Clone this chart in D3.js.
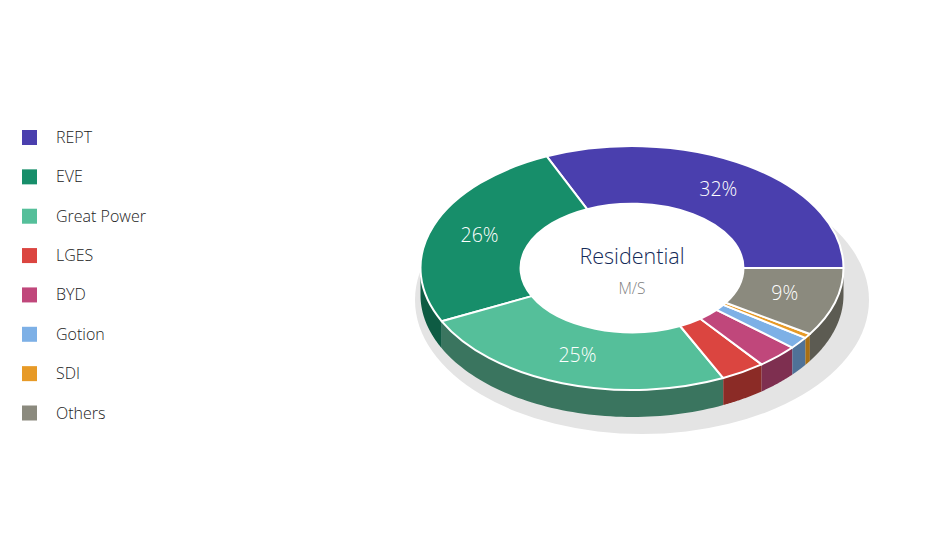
<!DOCTYPE html>
<html>
<head>
<meta charset="utf-8">
<script src="https://cdnjs.cloudflare.com/ajax/libs/d3/7.8.5/d3.min.js"></script>
<style>
html,body{margin:0;padding:0;background:#fff;overflow:hidden}
svg{display:block}
text{font-family:"Open Sans","Noto Sans",sans-serif;font-weight:300}
</style>
</head>
<body>
<svg id="c" width="930" height="551"></svg>
<script>
const categories = ["REPT","EVE","Great Power","LGES","BYD","Gotion","SDI","Others"];
const shares = [31.6,25.6,24.9,3.4,3.2,1.6,0.6,9.1];
const sliceLabels = ["32%","26%","25%","","","","","9%"];
const topColors = ["#4a3fae","#178e6a","#55bf9a","#db4540","#c0477b","#7db0e6","#e79a27","#8b8a7e"];
const wallColors = ["#33297a","#0e5b43","#3a755f","#8b2b26","#7e2f50","#4f7298","#a86f14","#5c5b52"];
const centerTitle = "Residential";
const centerSub = "M/S";

const svg = d3.select("#c");
const cx = 632, cy = 268, rx = 211.5, ry = 122, depth = 27;
const innerRatio = 0.527;
const sy = ry / rx;

// shadow
svg.append("ellipse").attr("cx",642).attr("cy",300).attr("rx",227).attr("ry",134).attr("fill","#e4e4e4");

const pie = d3.pie().sort(null).value(d=>d)
  .startAngle(Math.PI/2).endAngle(Math.PI/2 - 2*Math.PI);
const arcs = pie(shares);

// side walls
const wall = d3.area()
  .x(a => cx + rx*Math.sin(a))
  .y0(a => cy - ry*Math.cos(a))
  .y1(a => cy - ry*Math.cos(a) + depth);
const gWalls = svg.append("g");
arcs.forEach((d,i)=>{
  const lo = Math.max(d.endAngle, -3*Math.PI/2), hi = Math.min(d.startAngle, -Math.PI/2);
  if (hi <= lo) return;
  const n = 60;
  const pts = d3.range(n+1).map(k => lo + (hi-lo)*k/n);
  gWalls.append("path").attr("d", wall(pts)).attr("fill", wallColors[i]);
});

// hole
svg.append("ellipse").attr("cx",cx).attr("cy",cy).attr("rx",rx*innerRatio).attr("ry",ry*innerRatio).attr("fill","#fff");

// top
const arc = d3.arc().innerRadius(rx*innerRatio).outerRadius(rx);
const gTop = svg.append("g").attr("transform",`translate(${cx},${cy}) scale(1,${sy})`);
gTop.selectAll("path").data(arcs).join("path")
  .attr("d",arc)
  .attr("fill",(d,i)=>topColors[i])
  .attr("stroke","#fff").attr("stroke-width",2)
  .attr("stroke-linejoin","round")
  .attr("vector-effect","non-scaling-stroke");

// slice labels
const labelArc = d3.arc().innerRadius(rx*0.76).outerRadius(rx*0.76);
svg.append("g").selectAll("text").data(arcs).join("text")
  .attr("x",d=>cx+labelArc.centroid(d)[0]-1.5)
  .attr("y",d=>cy+labelArc.centroid(d)[1]*sy+6)
  .attr("text-anchor","middle").attr("fill","#fff").attr("font-size",19.5)
  .text((d,i)=>sliceLabels[i]);

// centre
svg.append("text").attr("x",cx).attr("y",264).attr("text-anchor","middle")
  .attr("font-size",21.5).attr("fill","#142a58").text(centerTitle);
svg.append("text").attr("x",cx).attr("y",294).attr("text-anchor","middle")
  .attr("font-size",15.5).attr("fill","#808080").text(centerSub);

// legend
const ly = d3.scalePoint().domain(categories).range([137.5,413]);
const lg = svg.append("g").selectAll("g").data(categories).join("g")
  .attr("transform",d=>`translate(0,${ly(d)})`);
lg.append("rect").attr("x",22).attr("y",-7.5).attr("width",15).attr("height",15)
  .attr("fill",(d,i)=>topColors[i]);
lg.append("text").attr("x",56).attr("y",5.5).attr("font-size",16).attr("fill","#222").text(d=>d);
</script>
</body>
</html>
